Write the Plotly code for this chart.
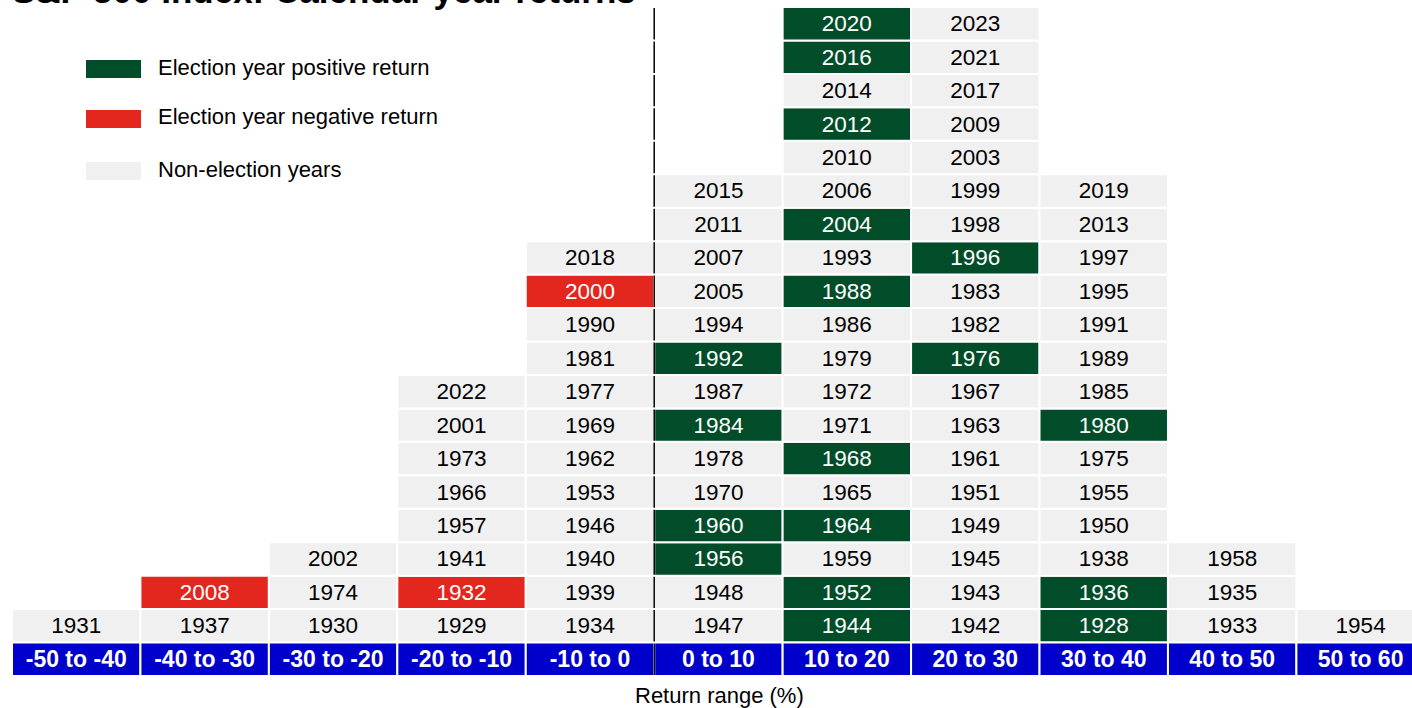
import plotly.graph_objects as go

# Return ranges (%) and the calendar years in each, listed bottom-up
ranges = ["-50 to -40", "-40 to -30", "-30 to -20", "-20 to -10", "-10 to 0",
          "0 to 10", "10 to 20", "20 to 30", "30 to 40", "40 to 50", "50 to 60"]

years_by_range = [
    [1931],
    [1937, 2008],
    [1930, 1974, 2002],
    [1929, 1932, 1941, 1957, 1966, 1973, 2001, 2022],
    [1934, 1939, 1940, 1946, 1953, 1962, 1969, 1977, 1981, 1990, 2000, 2018],
    [1947, 1948, 1956, 1960, 1970, 1978, 1984, 1987, 1992, 1994, 2005, 2007, 2011, 2015],
    [1944, 1952, 1959, 1964, 1965, 1968, 1971, 1972, 1979, 1986, 1988, 1993, 2004,
     2006, 2010, 2012, 2014, 2016, 2020],
    [1942, 1943, 1945, 1949, 1951, 1961, 1963, 1967, 1976, 1982, 1983, 1996, 1998,
     1999, 2003, 2009, 2017, 2021, 2023],
    [1928, 1936, 1938, 1950, 1955, 1975, 1980, 1985, 1989, 1991, 1995, 1997, 2013, 2019],
    [1933, 1935, 1958],
    [1954],
]

# Highlighted election years as coloured in the chart
election_positive = [1928, 1936, 1944, 1952, 1956, 1960, 1964, 1968, 1976, 1980,
                     1984, 1988, 1992, 1996, 2004, 2012, 2016, 2020]
election_negative = [1932, 2000, 2008]

legend_labels = ["Election year positive return", "Election year negative return",
                 "Non-election years"]

GREEN = "#014D2A"
RED = "#E3261E"
GREY = "#F0F0F0"
BLUE = "#0000CD"
FONT = "Liberation Sans, Arial, sans-serif"

W, H = 1412, 708
ML, MR, MT, MB = 12, 0, 7, 32
PW, PH = W - ML - MR, H - MT - MB


def px(x):
    return (x - ML) / PW


def py(y):
    return 1 - (y - MT) / PH


xs, bases, labels, fills, txtcol = [], [], [], [], []
for rng, yrs in zip(ranges, years_by_range):
    for level, yr in enumerate(yrs):
        xs.append(rng)
        bases.append(level)
        labels.append(str(yr))
        if yr in election_positive:
            fills.append(GREEN)
            txtcol.append("white")
        elif yr in election_negative:
            fills.append(RED)
            txtcol.append("white")
        else:
            fills.append(GREY)
            txtcol.append("black")

fig = go.Figure()

fig.add_trace(go.Bar(
    x=xs, y=[1] * len(xs), base=bases, width=1,
    text=labels, textposition="inside", insidetextanchor="middle",
    constraintext="none", textangle=0,
    textfont=dict(family=FONT, size=22.5, color=txtcol),
    marker=dict(color=fills, line=dict(color="white", width=2)),
    hoverinfo="text", showlegend=False,
))

# Range labels row underneath
fig.add_trace(go.Bar(
    x=ranges, y=[1] * len(ranges), base=[-1] * len(ranges), width=1,
    text=ranges, textposition="inside", insidetextanchor="middle",
    constraintext="none", textangle=0,
    textfont=dict(family=FONT, size=23, color="white", weight="bold"),
    marker=dict(color=BLUE, line=dict(color="white", width=2)),
    hoverinfo="text", showlegend=False,
))

max_rows = max(len(y) for y in years_by_range)
shapes = []
# zero divider, broken at each row boundary
for level in range(-1, max_rows):
    shapes.append(dict(type="line", xref="x", yref="y", x0=4.5, x1=4.5,
                       y0=level + 0.03, y1=level + 0.97,
                       line=dict(color="black", width=1.5)))

# legend swatches
legend_rows = [(60, 78), (110, 128), (162, 180)]
for (top, bot), col in zip(legend_rows, [GREEN, RED, GREY]):
    shapes.append(dict(type="rect", xref="paper", yref="paper",
                       x0=px(86), x1=px(141), y0=py(bot), y1=py(top),
                       fillcolor=col, line=dict(width=0), layer="above"))

annotations = []
for (top, bot), lab in zip(legend_rows, legend_labels):
    annotations.append(dict(xref="paper", yref="paper", x=px(156), y=py((top + bot) / 2 - 2),
                            xanchor="left", yanchor="middle", showarrow=False, text=lab,
                            font=dict(family=FONT, size=22, color="black")))

annotations.append(dict(xref="paper", yref="paper", x=px(719), y=py(695),
                        xanchor="center", yanchor="middle", showarrow=False,
                        text="Return range (%)", font=dict(family=FONT, size=22, color="black")))

annotations.append(dict(xref="paper", yref="paper", x=px(10), y=py(12),
                        xanchor="left", yanchor="bottom", showarrow=False,
                        text="<b>S&P 500 Index: Calendar year returns</b>",
                        font=dict(family=FONT, size=35, color="black")))

fig.update_layout(
    width=W, height=H,
    margin=dict(l=ML, r=MR, t=MT, b=MB, pad=0),
    paper_bgcolor="white", plot_bgcolor="white",
    barmode="overlay",
    xaxis=dict(type="category", categoryorder="array", categoryarray=ranges,
               range=[-0.5, 10.4], visible=False, fixedrange=True),
    yaxis=dict(range=[-1, max_rows], visible=False, fixedrange=True),
    shapes=shapes, annotations=annotations,
    showlegend=False,
)

# page body has a default margin; drop it so the figure sits at the window corner
fig.write_html("out.html", config={"displayModeBar": False},
               post_script="document.body.style.margin='0';")
